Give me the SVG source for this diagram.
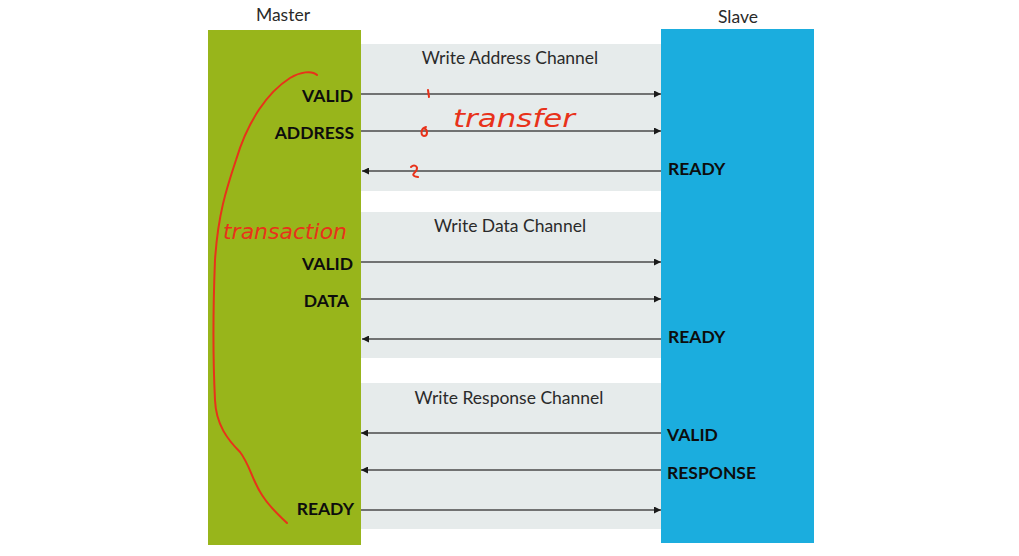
<svg xmlns="http://www.w3.org/2000/svg" width="1019" height="556" viewBox="0 0 1019 556">
<style>
.title{font-family:Lato,"Liberation Sans",sans-serif;font-size:17.5px;fill:#2a2a2a;text-anchor:middle}
.sig{font-family:Lato,"Liberation Sans",sans-serif;font-size:17.5px;font-weight:bold;fill:#0d0d0d}
.r{text-anchor:end}
.band{fill:#e6ebeb}
.ln{stroke:#4a4a4a;stroke-width:1.5;fill:none}
.ink{stroke:#e8321a;stroke-width:2;fill:none;stroke-linecap:round;stroke-linejoin:round}
.hand{font-family:"DejaVu Sans","Liberation Sans",sans-serif;font-style:italic;fill:#e8321a}
</style>
<defs>
<marker id="ah" viewBox="0 0 10 10" refX="10" refY="5" markerWidth="8" markerHeight="7" markerUnits="userSpaceOnUse" orient="auto">
<path d="M0,0 L10,5 L0,10 Z" fill="#1a1a1a"/>
</marker>
</defs>
<rect width="1019" height="556" fill="#fff"/>
<g id="channels">
<rect class="band" x="361" y="44" width="300" height="147"/>
<rect class="band" x="361" y="212" width="300" height="146"/>
<rect class="band" x="361" y="383" width="300" height="146"/>
<text class="title" x="510" y="64">Write Address Channel</text>
<text class="title" x="510" y="232">Write Data Channel</text>
<text class="title" x="509" y="404">Write Response Channel</text>
</g>
<g id="master">
<text class="title" x="283" y="21">Master</text>
<rect x="208" y="30" width="153" height="515" fill="#98b51b"/>
<text class="sig r" x="353" y="102">VALID</text>
<text class="sig r" x="354" y="139">ADDRESS</text>
<text class="sig r" x="353" y="270">VALID</text>
<text class="sig r" x="349" y="307">DATA</text>
<text class="sig r" x="354" y="515">READY</text>
</g>
<g id="slave">
<text class="title" x="738" y="23">Slave</text>
<rect x="661" y="29" width="153" height="514" fill="#1badde"/>
<text class="sig" x="668" y="175">READY</text>
<text class="sig" x="668" y="343">READY</text>
<text class="sig" x="667" y="441">VALID</text>
<text class="sig" x="667" y="479">RESPONSE</text>
</g>
<g id="connectors">
<line class="ln" x1="361" y1="94" x2="661" y2="94" marker-end="url(#ah)"/>
<line class="ln" x1="361" y1="131" x2="661" y2="131" marker-end="url(#ah)"/>
<line class="ln" x1="661" y1="171" x2="362" y2="171" marker-end="url(#ah)"/>
<line class="ln" x1="361" y1="262" x2="661" y2="262" marker-end="url(#ah)"/>
<line class="ln" x1="361" y1="299" x2="661" y2="299" marker-end="url(#ah)"/>
<line class="ln" x1="661" y1="339" x2="362" y2="339" marker-end="url(#ah)"/>
<line class="ln" x1="661" y1="433" x2="361" y2="433" marker-end="url(#ah)"/>
<line class="ln" x1="661" y1="470" x2="361" y2="470" marker-end="url(#ah)"/>
<line class="ln" x1="361" y1="510" x2="661" y2="510" marker-end="url(#ah)"/>
</g>
<g id="annotations">
<path class="ink" d="M317,75 C312,70 300,72 290,78 C268,92 248,120 236,160 C226,190 218,215 215,260 C213,310 213,360 215,400 C216,425 228,440 240,452 C250,465 252,480 262,495 C270,508 280,516 287,523"/>
<path class="ink" d="M428,90 L429,97"/>
<path class="ink" d="M426,127 C421,128 420,135 424,136 C428,136 428,130 424,128"/>
<path class="ink" d="M411,167 C414,164 419,166 416,171 C413,174 411,176 418,177"/>
<text class="hand" x="453" y="127" font-size="24" textLength="122" lengthAdjust="spacingAndGlyphs">transfer</text>
<text class="hand" x="223" y="239" font-size="22" textLength="124" lengthAdjust="spacingAndGlyphs">transaction</text>
</g>
</svg>
